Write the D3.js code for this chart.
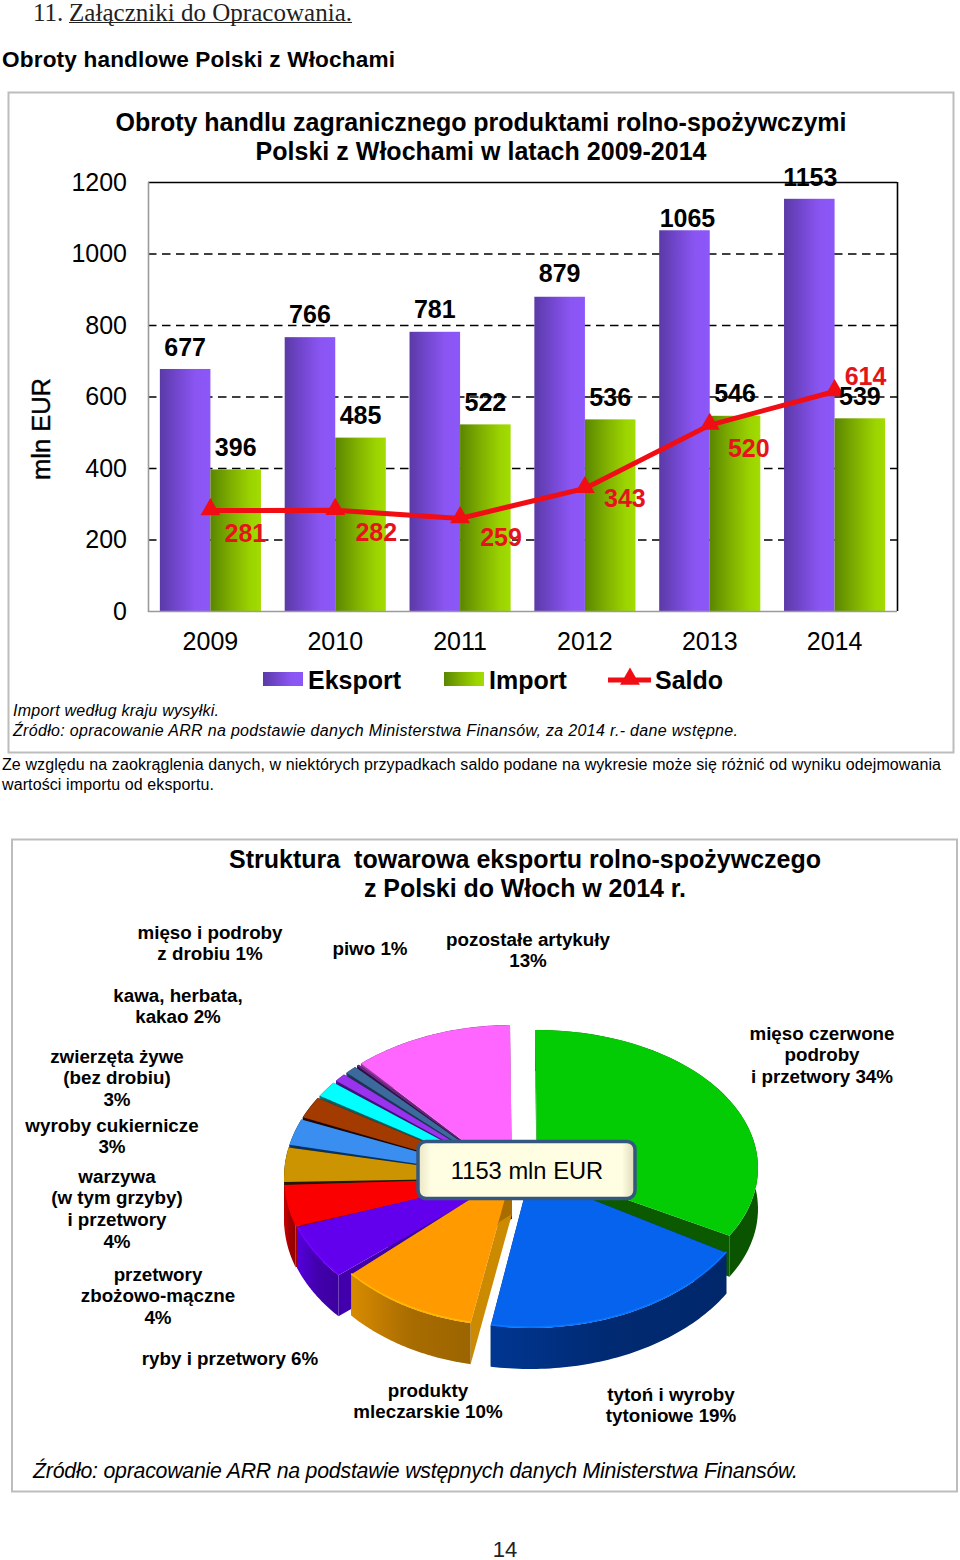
<!DOCTYPE html>
<html><head><meta charset="utf-8">
<script src="https://cdnjs.cloudflare.com/ajax/libs/d3/7.9.0/d3.min.js"></script>
<style>html,body{margin:0;padding:0;background:#fff}svg{display:block}text{font-family:"Liberation Sans",Arial,sans-serif;fill:#000}</style>
</head><body><svg id="c" width="960" height="1560"></svg>
<script>
// --- bar chart data
const years = ["2009","2010","2011","2012","2013","2014"];
const eksport = [677,766,781,879,1065,1153];
const importV = [396,485,522,536,546,539];
const saldo = [281,282,259,343,520,614];
const yTicks = [0,200,400,600,800,1000,1200];
// --- pie data
const pieNames = ["mięso czerwone","tytoń","mleczarskie","ryby","przetwory zbożowe","warzywa","cukiernicze","zwierzęta","kawa","drób","piwo","inne drobne","pozostałe"];
const pieValues = [34,19,10,6,4,4,3,3,2,1,1,0.5,13];
const pieColors = ["#04cc04","#0663ee","#ff9a00","#6200ee","#fa0000","#cc9400","#3a8ef0","#a33a00","#00ffff","#9933ee","#3d6a9c","#6a2a8a","#ff66ff"];
const pieWalls = ["#0b5a00","#002a72","#a86c00","#4200ac","#a00000","#1e1a00","#063060","#200800","#0a6060","#40107a","#1c3454","#300f44","#7a2a7a"];
// --- layout, separate from data
const perspectiveAngles = [-1,120,190.5,229,251,268,282,293,302,309,313,317,318,360];
const sliceCx = [537,530,512,512,512,512,512,512,512,512,512,512,512];
const sliceCy = [1168,1175,1173,1176,1178,1178,1178,1178,1178,1178,1178,1178,1178];
const sliceRx = [221,228,215,228,228,228,228,228,228,228,228,228,228];
const sliceRy = [138,153,153,153,153,153,153,153,153,153,153,153,153];
const expLabelDy = [-22,-23,-23,-24,-12,-22];
const expLabelDx = [0,0,0,0,3,1];
const impLabelDy = [-22,-23,-22,-22,-23,-22];
const salLabelDx = [35,41,41,40,39,31];
const salLabelDy = [22,22,19,10,23,-15];

const pieLabels = [
 {x:822,y:1033,lines:["mięso czerwone","podroby","i przetwory 34%"]},
 {x:671,y:1394,lines:["tytoń i wyroby","tytoniowe 19%"]},
 {x:428,y:1390,lines:["produkty","mleczarskie 10%"]},
 {x:230,y:1358,lines:["ryby i przetwory 6%"]},
 {x:158,y:1274,lines:["przetwory","zbożowo-mączne","4%"]},
 {x:117,y:1176,lines:["warzywa","(w tym grzyby)","i przetwory","4%"]},
 {x:112,y:1125,lines:["wyroby cukiernicze","3%"]},
 {x:117,y:1056,lines:["zwierzęta żywe","(bez drobiu)","3%"]},
 {x:178,y:995,lines:["kawa, herbata,","kakao 2%"]},
 {x:210,y:932,lines:["mięso i podroby","z drobiu 1%"]},
 {x:370,y:948,lines:["piwo 1%"]},
 {x:528,y:939,lines:["pozostałe artykuły","13%"]}
];

const svg = d3.select("#c");
const defs = svg.append("defs");
function grad(id,stops,attrs){
  const g = defs.append("linearGradient").attr("id",id).attr("x1",0).attr("x2",1).attr("y1",0).attr("y2",0);
  if(attrs) g.attr("gradientUnits","userSpaceOnUse").attr("x1",attrs[0]).attr("x2",attrs[1]);
  stops.forEach(s=>g.append("stop").attr("offset",s[0]).attr("stop-color",s[1]));
}
grad("gE",[[0,"#5a3aa6"],[.35,"#7347cf"],[.7,"#8a55f2"],[1,"#8c57f8"]]);
grad("gI",[[0,"#5a8600"],[.4,"#7eae00"],[.8,"#9bd400"],[1,"#a2dc00"]]);

function txt(x,y,s,size,opt={}){
  const t = svg.append("text").attr("x",x).attr("y",y).attr("font-size",size).attr("dominant-baseline","central").text(s);
  if(opt.anchor) t.attr("text-anchor",opt.anchor);
  if(opt.bold) t.attr("font-weight","bold");
  if(opt.italic) t.attr("font-style","italic");
  if(opt.fill) t.style("fill",opt.fill);
  if(opt.family) t.style("font-family",opt.family);
  if(opt.len) t.attr("textLength",opt.len).attr("lengthAdjust","spacing");
  return t;
}

// page heads
txt(33,12,"11. ",25,{family:"'Liberation Serif',serif",fill:"#222"});
txt(69,12,"Załączniki do Opracowania.",25,{family:"'Liberation Serif',serif",fill:"#222",len:283});
svg.append("line").attr("x1",69).attr("x2",352).attr("y1",22.5).attr("y2",22.5).attr("stroke","#222").attr("stroke-width",1);
txt(2,59.5,"Obroty handlowe Polski z Włochami",22.6,{bold:true,len:393});

// frame 1
svg.append("rect").attr("x",8.5).attr("y",92.5).attr("width",945).attr("height",660).attr("fill","#fff").attr("stroke","#bdbdbd").attr("stroke-width",2);
txt(481,122,"Obroty handlu zagranicznego produktami rolno-spożywczymi",25,{bold:true,anchor:"middle",len:731});
txt(481,151,"Polski z Włochami w latach 2009-2014",25,{bold:true,anchor:"middle",len:451});

const x0 = d3.scaleBand().domain(years).range([148,897]).paddingInner(.19).paddingOuter(.095);
const x1 = d3.scaleBand().domain(["e","i"]).range([0,x0.bandwidth()]);
const y = d3.scaleLinear().domain([0,1200]).range([611,182]);

const yAxis = d3.axisLeft(y).tickValues(yTicks).tickSize(0).tickPadding(21).tickFormat(d=>d);
const ya = svg.append("g").attr("transform","translate(148,0)").call(yAxis);
ya.select(".domain").remove();
ya.selectAll("text").attr("font-size",25).attr("font-family",null).style("font-family","'Liberation Sans'").attr("dy",".33em");

const grid = svg.append("g");
grid.selectAll("line").data(yTicks.filter(d=>d>0&&d<1200)).join("line")
  .attr("x1",148).attr("x2",897).attr("y1",d=>y(d)+.5).attr("y2",d=>y(d)+.5)
  .attr("stroke","#000").attr("stroke-width",1.4).attr("stroke-dasharray","8.5,5.5");
svg.append("line").attr("x1",148).attr("x2",897).attr("y1",y(1200)+.5).attr("y2",y(1200)+.5).attr("stroke","#000").attr("stroke-width",1.6);
svg.append("line").attr("x1",897.5).attr("x2",897.5).attr("y1",y(1200)).attr("y2",y(0)).attr("stroke","#000").attr("stroke-width",1.6);

const barG = svg.append("g");
barG.selectAll(".e").data(eksport).join("rect").attr("x",(d,i)=>x0(years[i])+x1("e")).attr("width",x1.bandwidth())
  .attr("y",d=>y(d)).attr("height",d=>y(0)-y(d)).attr("fill","url(#gE)");
barG.selectAll(".i").data(importV).join("rect").attr("class","i").attr("x",(d,i)=>x0(years[i])+x1("i")).attr("width",x1.bandwidth())
  .attr("y",d=>y(d)).attr("height",d=>y(0)-y(d)).attr("fill","url(#gI)");

svg.append("line").attr("x1",148.5).attr("x2",148.5).attr("y1",y(1200)).attr("y2",y(0)+1).attr("stroke","#9a9a9a").attr("stroke-width",1.6);
svg.append("line").attr("x1",148).attr("x2",897).attr("y1",y(0)+.5).attr("y2",y(0)+.5).attr("stroke","#9a9a9a").attr("stroke-width",1.6);

const xAxis = d3.axisBottom(x0).tickSize(0).tickPadding(21);
const xa = svg.append("g").attr("transform","translate(0,611)").call(xAxis);
xa.select(".domain").remove();
xa.selectAll("text").attr("font-size",25).style("font-family","'Liberation Sans'");

const cx = i=>x0(years[i])+x0.bandwidth()/2;
const line = d3.line().x((d,i)=>cx(i)).y(d=>y(d));
svg.append("path").datum(saldo).attr("d",line).attr("fill","none").attr("stroke","#f00d14").attr("stroke-width",5);
const tri = d3.symbol().type(d3.symbolTriangle).size(170);
svg.selectAll(".m").data(saldo).join("path").attr("class","m").attr("d",tri)
  .attr("transform",(d,i)=>`translate(${cx(i)},${y(d)-1})`).attr("fill","#f00d14");

eksport.forEach((d,i)=>txt(x0(years[i])+x1("e")+x1.bandwidth()/2+expLabelDx[i],y(d)+expLabelDy[i],d,25,{bold:true,anchor:"middle"}));
importV.forEach((d,i)=>txt(x0(years[i])+x1("i")+x1.bandwidth()/2,y(d)+impLabelDy[i],d,25,{bold:true,anchor:"middle"}));
saldo.forEach((d,i)=>txt(cx(i)+salLabelDx[i],y(d)+salLabelDy[i],d,25,{bold:true,anchor:"middle",fill:"#e5141a"}));

txt(41,429,"mln EUR",25.5,{anchor:"middle"}).attr("transform","rotate(-90 41 429)").style("stroke","#000").style("stroke-width",.4);

// legend
svg.append("rect").attr("x",263).attr("y",672).attr("width",40).attr("height",14).attr("fill","url(#gE)");
txt(308,680,"Eksport",25,{bold:true});
svg.append("rect").attr("x",444).attr("y",672).attr("width",40).attr("height",14).attr("fill","url(#gI)");
txt(489,680,"Import",25,{bold:true});
svg.append("line").attr("x1",608).attr("x2",651).attr("y1",680).attr("y2",680).attr("stroke","#f00d14").attr("stroke-width",5);
svg.append("path").attr("d",tri).attr("transform","translate(630,679)").attr("fill","#f00d14");
txt(655,680,"Saldo",25,{bold:true});

txt(13,710,"Import według kraju wysyłki.",16,{italic:true,len:206});
txt(13,730,"Źródło: opracowanie ARR na podstawie danych Ministerstwa Finansów, za 2014 r.- dane wstępne.",16,{italic:true,len:725});
txt(2,764,"Ze względu na zaokrąglenia danych, w niektórych przypadkach saldo podane na wykresie może się różnić od wyniku odejmowania",16,{len:939});
txt(2,784,"wartości importu od eksportu.",16,{len:212});

// frame 2
svg.append("rect").attr("x",12).attr("y",839.5).attr("width",945).attr("height",652).attr("fill","#fff").attr("stroke","#bdbdbd").attr("stroke-width",2);
txt(525,859,"Struktura  towarowa eksportu rolno-spożywczego",25,{bold:true,anchor:"middle",len:592}).attr("xml:space","preserve");
txt(525,888,"z Polski do Włoch w 2014 r.",25,{bold:true,anchor:"middle",len:322});

// pie
const depth = 41;
const rad = Math.PI/180;
const pieGen = d3.pie().sort(null).startAngle(0).endAngle(2*Math.PI).padAngle(1.1*rad);
const arcsRaw = pieGen(pieValues);
const warpDomain = [arcsRaw[0].startAngle].concat(arcsRaw.map(a=>a.endAngle));
const warp = d3.scaleLinear().domain(warpDomain).range(perspectiveAngles.map(a=>a*rad));
const arcG = d3.arc().innerRadius(0).outerRadius(100);
const order = d3.range(pieValues.length).sort((a,b)=>{
  const m=i=>-Math.cos((warp(arcsRaw[i].startAngle)+warp(arcsRaw[i].endAngle))/2);
  return m(a)-m(b);
});
const pieG = svg.append("g");
order.forEach(i=>{
  const a = arcsRaw[i];
  const s = warp(a.startAngle+a.padAngle/2), e = warp(a.endAngle-a.padAngle/2);
  const cxx=sliceCx[i], cy=sliceCy[i], rx=sliceRx[i], ry=sliceRy[i];
  const px = p=>cxx+rx*Math.sin(p), py = p=>cy-ry*Math.cos(p);
  const g = pieG.append("g");
  const wall = pieWalls[i];
  // inner walls
  const quad = d3.line();
  [s,e].forEach((p,k)=>{
    const c = (i===2 && k===0) ? "#cc8a00" : (i===1 ? "#002a72" : wall);
    g.append("path").attr("d",quad([[cxx,cy],[px(p),py(p)],[px(p),py(p)+depth],[cxx,cy+depth]])+"Z").attr("fill",c);
  });
  // outer wall
  const gid = "w"+i;
  grad(gid,[[0,d3.color(wall).brighter(.7).formatHex()],[.5,wall],[1,d3.color(wall).darker(.2).formatHex()]],
       [Math.min(px(s),px(e)),Math.max(px(s),px(e))]);
  const steps = d3.range(0,61).map(k=>s+(e-s)*k/60);
  const area = d3.area().x(p=>px(p)).y0(p=>py(p)).y1(p=>py(p)+depth);
  g.append("path").attr("d",area(steps)).attr("fill",`url(#${gid})`);
  // top surface
  g.append("path")
    .attr("d",arcG({startAngle:s,endAngle:e}))
    .attr("transform",`translate(${cxx},${cy}) scale(${rx/100},${ry/100})`)
    .attr("fill",pieColors[i]);
  // rim highlight on the front slices
  if(i>=1 && i<=3){
    const rim = d3.line().x(p=>px(p)).y(p=>py(p)-1);
    g.append("path").attr("d",rim(steps)).attr("fill","none")
      .attr("stroke",d3.color(pieColors[i]).brighter(.5).formatHex()).attr("stroke-width",1.6);
  }
});

// center box
grad("gBox",[[0,"#e9e6c4"],[.06,"#fffde2"],[.94,"#fffde2"],[1,"#dcd9b6"]]);
svg.append("rect").attr("x",418).attr("y",1141.5).attr("width",217).attr("height",57).attr("rx",8).attr("fill","url(#gBox)").attr("stroke","#34577f").attr("stroke-width",3.5);
txt(527,1171,"1153 mln EUR",23.7,{anchor:"middle"});

// pie labels
pieLabels.forEach(l=>l.lines.forEach((s,k)=>txt(l.x,l.y+k*(l.lines.length>1?21.7:0),s,18.8,{bold:true,anchor:"middle"})));

txt(33,1471,"Źródło: opracowanie ARR na podstawie wstępnych danych Ministerstwa Finansów.",21.3,{italic:true,len:765});
txt(505,1549,"14",22,{anchor:"middle",fill:"#222"});
</script></body></html>
